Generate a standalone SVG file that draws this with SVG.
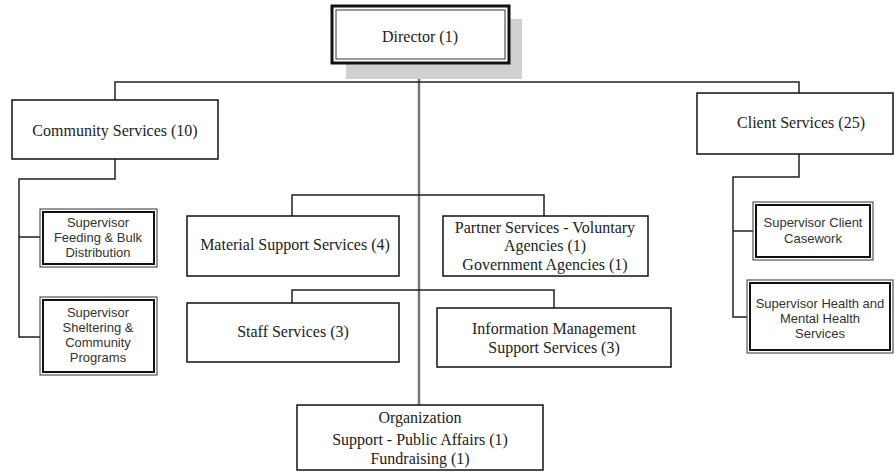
<svg xmlns="http://www.w3.org/2000/svg" width="895" height="472" viewBox="0 0 895 472">
<style>
.box{fill:#fff;stroke:#111;stroke-width:1.5}
.in{fill:none;stroke:#111;stroke-width:2}
.thin{fill:none;stroke:#333;stroke-width:1}
.c{fill:none;stroke:#222;stroke-width:1.5}
.trunk{fill:none;stroke:#777;stroke-width:2.5}
.s{font-family:"Liberation Serif","Times New Roman",serif;font-size:16px;fill:#222;text-anchor:middle}
.a{font-family:"Liberation Sans",Arial,sans-serif;font-size:13px;fill:#333;text-anchor:middle}
</style>
<rect width="895" height="472" fill="#fff"/>
<g id="connectors">
<path class="trunk" d="M419,63 V405"/>
<path class="c" d="M115,100 V82 H799 V93"/>
<path class="c" d="M115,159 V179 H19 V337 H40 M19,237 H40"/>
<path class="c" d="M799,154 V177 H733 V317 H747 M733,231 H753"/>
<path class="c" d="M292,216 V195 H544 V216"/>
<path class="c" d="M292,303 V290 H554 V308"/>
</g>
<g id="director">
<rect x="346" y="19" width="176" height="60" fill="#d0d0d0"/>
<rect x="332" y="6" width="177" height="57" fill="#fff" stroke="#111" stroke-width="3"/>
<rect x="336" y="10" width="169" height="49" class="thin"/>
<text class="s" x="420" y="42">Director (1)</text>
</g>
<g id="community">
<rect class="box" x="12" y="100" width="206" height="59"/>
<text class="s" x="115" y="136">Community Services (10)</text>
</g>
<g id="client">
<rect class="box" x="697" y="93" width="196" height="61"/>
<text class="s" x="801" y="128">Client Services (25)</text>
</g>
<g id="feeding">
<rect class="thin" x="40" y="209" width="117" height="58"/>
<rect class="in" x="43" y="212" width="111" height="52"/>
<text class="a" x="98" y="227">Supervisor</text>
<text class="a" x="98" y="242">Feeding &amp; Bulk</text>
<text class="a" x="98" y="257">Distribution</text>
</g>
<g id="sheltering">
<rect class="thin" x="40" y="297" width="117" height="78"/>
<rect class="in" x="43" y="300" width="111" height="72"/>
<text class="a" x="98" y="317">Supervisor</text>
<text class="a" x="98" y="332">Sheltering &amp;</text>
<text class="a" x="98" y="347">Community</text>
<text class="a" x="98" y="362">Programs</text>
</g>
<g id="casework">
<rect class="thin" x="753" y="202" width="120" height="58"/>
<rect class="in" x="756" y="205" width="114" height="52"/>
<text class="a" x="813" y="227">Supervisor Client</text>
<text class="a" x="813" y="243">Casework</text>
</g>
<g id="health">
<rect class="thin" x="747" y="280" width="146" height="73"/>
<rect class="in" x="750" y="283" width="140" height="67"/>
<text class="a" x="820" y="308">Supervisor Health and</text>
<text class="a" x="820" y="323">Mental Health</text>
<text class="a" x="820" y="338">Services</text>
</g>
<g id="material">
<rect class="box" x="187" y="216" width="212" height="60"/>
<text class="s" x="295" y="250">Material Support Services (4)</text>
</g>
<g id="partner">
<rect class="box" x="443" y="216" width="205" height="60"/>
<text class="s" x="545" y="233">Partner Services - Voluntary</text>
<text class="s" x="545" y="251">Agencies (1)</text>
<text class="s" x="545" y="270">Government Agencies (1)</text>
</g>
<g id="staff">
<rect class="box" x="187" y="303" width="212" height="59"/>
<text class="s" x="293" y="337">Staff Services (3)</text>
</g>
<g id="info">
<rect class="box" x="437" y="308" width="234" height="59"/>
<text class="s" x="554" y="334">Information Management</text>
<text class="s" x="554" y="353">Support Services (3)</text>
</g>
<g id="organization">
<rect class="box" x="297" y="405" width="246" height="65"/>
<text class="s" x="420" y="423">Organization</text>
<text class="s" x="420" y="445">Support - Public Affairs (1)</text>
<text class="s" x="420" y="464">Fundraising (1)</text>
</g>
</svg>
